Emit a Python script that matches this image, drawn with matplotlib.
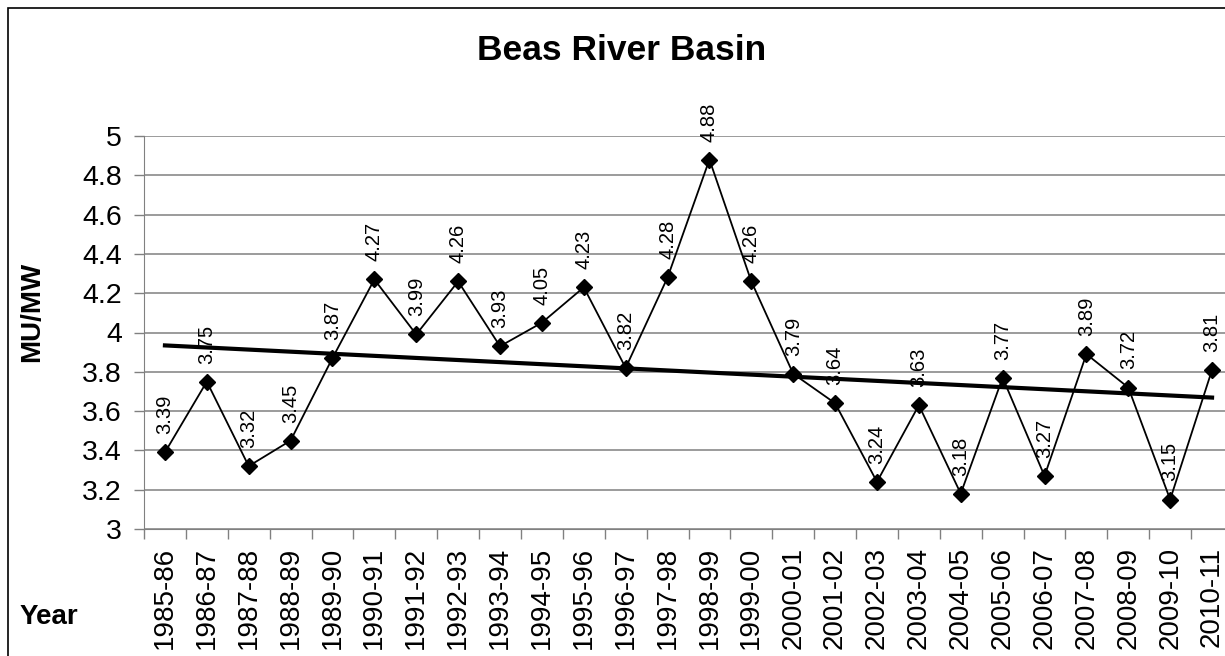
import numpy as np
import matplotlib.pyplot as plt
from matplotlib.patches import Rectangle

plt.rcParams['font.family'] = ['Liberation Sans', 'DejaVu Sans']

years = ['1985-86', '1986-87', '1987-88', '1988-89', '1989-90', '1990-91',
         '1991-92', '1992-93', '1993-94', '1994-95', '1995-96', '1996-97',
         '1997-98', '1998-99', '1999-00', '2000-01', '2001-02', '2002-03',
         '2003-04', '2004-05', '2005-06', '2006-07', '2007-08', '2008-09',
         '2009-10', '2010-11']
mu_mw = [3.39, 3.75, 3.32, 3.45, 3.87, 4.27, 3.99, 4.26, 3.93, 4.05, 4.23, 3.82,
         4.28, 4.88, 4.26, 3.79, 3.64, 3.24, 3.63, 3.18, 3.77, 3.27, 3.89, 3.72,
         3.15, 3.81]
y_ticks = [3, 3.2, 3.4, 3.6, 3.8, 4, 4.2, 4.4, 4.6, 4.8, 5]

W, H = 1225, 656
fig = plt.figure(figsize=(W / 100, H / 100), dpi=100)
ax = fig.add_axes([144 / W, (H - 529) / H, (1233 - 144) / W, (529 - 136) / H])

# outer chart border
fig.patches.append(Rectangle((8 / W, -0.1), 1.2, (H - 8) / H + 0.1,
                             transform=fig.transFigure, fill=False,
                             edgecolor='black', linewidth=1.2))

x = np.arange(len(years))
ax.plot(x, mu_mw, color='black', linewidth=1.3, marker='D', markersize=8,
        markerfacecolor='black', zorder=3)

# linear trendline
slope, intercept = np.polyfit(x, mu_mw, 1)
ax.plot([x[0], x[-1]], [intercept, slope * x[-1] + intercept],
        color='black', linewidth=3, zorder=4)

for xi, v in zip(x, mu_mw):
    ax.annotate(f'{v:.2f}', (xi, v), xytext=(0, 13), textcoords='offset points',
                ha='center', va='bottom', rotation=90, fontsize=14.5, zorder=5)

ax.set_xlim(-0.5, len(years) - 0.5)
ax.set_ylim(3, 5)
ax.set_yticks(y_ticks)
ax.set_yticklabels([f'{t:g}' for t in y_ticks], fontsize=20.5)
ax.set_xticks(x)
ax.set_xticklabels(years, rotation=90, fontsize=20)
ax.set_xticks(np.arange(len(years) + 1) - 0.5, minor=True)
ax.tick_params(axis='x', which='major', length=0, pad=13)
ax.tick_params(axis='x', which='minor', length=7, width=1, color='#808080')
ax.tick_params(axis='y', length=7, width=1, color='#808080', pad=9)

ax.grid(axis='y', color='#808080', linewidth=1.1)
ax.set_axisbelow(True)
for s in ['top', 'right']:
    ax.spines[s].set_visible(False)
ax.spines['left'].set_color('#808080')
ax.spines['bottom'].set_color('#808080')

fig.text(622 / W, (H - 51) / H, 'Beas River Basin', ha='center', va='center',
         fontsize=25.5, fontweight='bold')
fig.text(32 / W, (H - 312) / H, 'MU/MW', ha='center', va='center',
         rotation=90, fontsize=20, fontweight='bold')
fig.text(20 / W, (H - 617) / H, 'Year', ha='left', va='center',
         fontsize=20, fontweight='bold')

fig.savefig('out.png', dpi=100)
